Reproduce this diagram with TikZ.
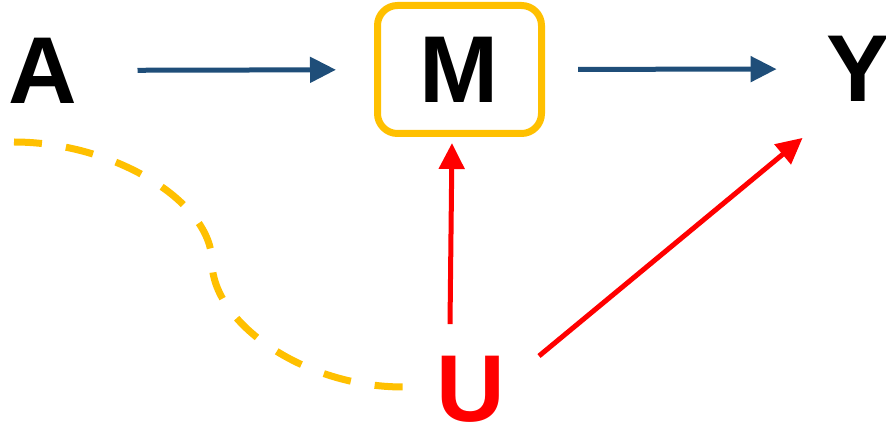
\documentclass[tikz,border=0pt]{standalone}
\usepackage{fontspec}
\setmainfont{Liberation Sans}
\usetikzlibrary{arrows.meta,calc}
\definecolor{pathblue}{HTML}{1F4E79}
\definecolor{gold}{HTML}{FFC000}
\definecolor{confred}{HTML}{FF0000}
\begin{document}
\begin{tikzpicture}[x=1pt,y=-1pt,
  letter/.style={font=\fontsize{95}{95}\selectfont\bfseries, inner sep=0pt},
  mediator/.style={letter, draw=gold, line width=7pt, rounded corners=20pt,
    minimum width=164pt, minimum height=128pt},
  causal/.style={line width=5pt, -{Triangle[length=26pt,width=25pt]}},
  bias/.style={gold, line width=7pt, dash pattern=on 28pt off 24.2pt}]
\useasboundingbox (0,0) rectangle (886,427);

% variables
\node[letter] (A) at (43,70.5) {A};
\node[mediator] (M) at (459.5,69.5) {M};
\node[letter] (Y) at (858.5,69) {Y};
\node[letter, text=confred] (U) at (470.5,389.5) {U};

% direct pathway through the mediator
\draw[causal, pathblue, shorten <=60pt, shorten >=38pt] (A) -- (M);
\draw[causal, pathblue, shorten <=33pt, shorten >=50pt] (M) -- (Y);

% unmeasured confounder
\draw[causal, confred] ($(U.north)+(-20.5,-32)$) -- ($(M.south)+(-7.5,6)$);
\draw[causal, confred] ($(U.east)+(34,-33.5)$) -- ($(Y.south west)+(-24,36)$);

% association between A and U
\coordinate (s) at (14,142);
\coordinate (e) at ($(U.west)+(-33,-2.5)$);
\draw[bias] (s) .. controls (114,142) and (212,202) .. (212,262)
  .. controls (212,322) and (303,387) .. (e);
\end{tikzpicture}
\end{document}
